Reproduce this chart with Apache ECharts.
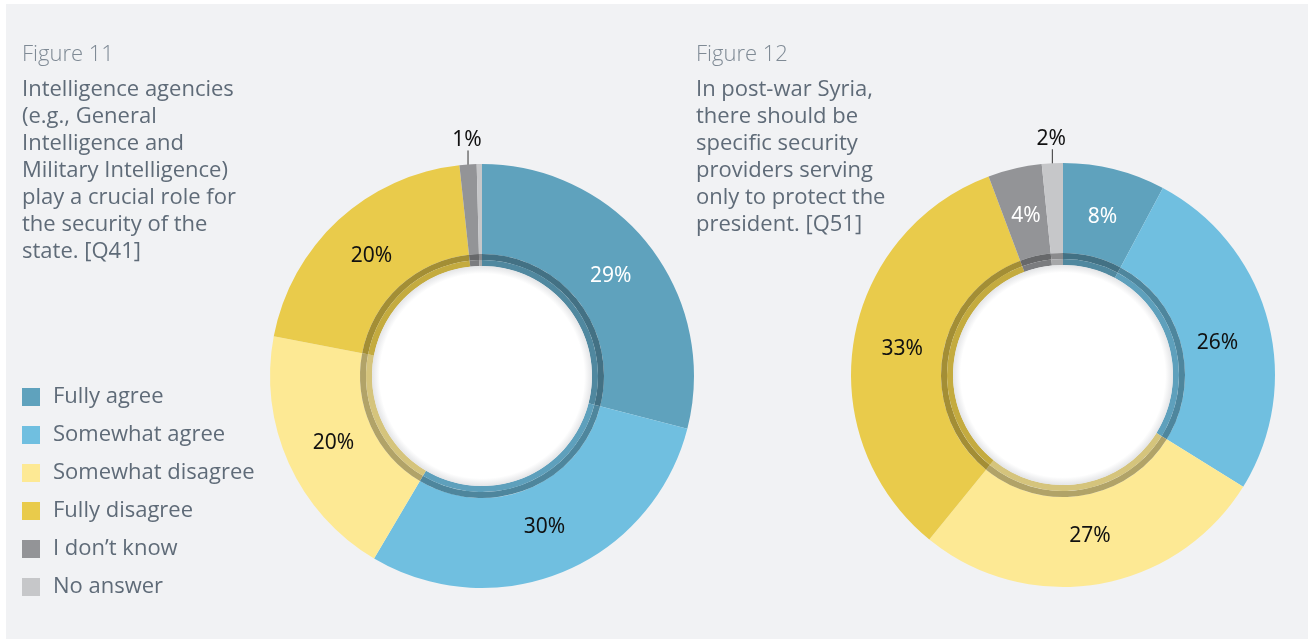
<!DOCTYPE html>
<html>
<head>
<meta charset="utf-8">
<script src="https://cdn.jsdelivr.net/npm/echarts@6/dist/echarts.min.js"></script>
<style>
  html, body { margin: 0; padding: 0; background: #ffffff; }
  #bg { position: absolute; left: 6px; top: 4px; right: 0; bottom: 0; background: #f1f2f4; }
  #chart { position: absolute; left: 0; top: 0; width: 1308px; height: 639px; }
</style>
</head>
<body>
<div id="bg"></div>
<div id="chart"></div>
<script>
const categories = ['Fully agree', 'Somewhat agree', 'Somewhat disagree', 'Fully disagree', 'I don\u2019t know', 'No answer'];
const fig11Values = [29, 29.5, 19.5, 20.3, 1.3, 0.4];
const fig12Values = [7.8, 26, 27, 33.4, 4.1, 1.6];
const fig11Label = 'Figure 11';
const fig12Label = 'Figure 12';
const fig11Question = ['Intelligence agencies', '(e.g., General', 'Intelligence and', 'Military Intelligence)', 'play a crucial role for', 'the security of the', 'state. [Q41]'];
const fig12Question = ['In post-war Syria,', 'there should be', 'specific security', 'providers serving', 'only to protect the', 'president. [Q51]'];

const colors = ['#5fa2bd', '#70bfe0', '#fde994', '#e9cb4b', '#939497', '#c6c7c9'];
const labelColors = ['#ffffff', '#111111', '#111111', '#111111', '#ffffff', '#111111'];
const textFont = 'Open Sans';

function shade(hex, f) {
  const n = parseInt(hex.slice(1), 16);
  const r = Math.round(((n >> 16) & 255) * (1 - f));
  const g = Math.round(((n >> 8) & 255) * (1 - f));
  const b = Math.round((n & 255) * (1 - f));
  return 'rgb(' + r + ',' + g + ',' + b + ')';
}

function mainData(values, outside, hidden) {
  return values.map((v, i) => {
    const item = { name: categories[i], value: v, itemStyle: { color: colors[i] } };
    if (hidden.indexOf(i) >= 0) {
      item.label = { show: false };
    } else if (outside.indexOf(i) >= 0) {
      item.label = { show: true, position: 'outside', color: '#111111' };
      item.labelLine = { show: true, length: 10, length2: 0, lineStyle: { color: '#333333', width: 1 } };
    } else {
      item.label = { show: true, position: 'inside', color: labelColors[i] };
    }
    return item;
  });
}

function ringData(values, f) {
  return values.map((v, i) => ({ name: categories[i], value: v, itemStyle: { color: shade(colors[i], f) } }));
}

function makeSeries(name, values, center, outside, hidden, nudges) {
  return [
    {
      name: name, type: 'pie', center: center, radius: [122, 212], startAngle: 90, clockwise: true,
      avoidLabelOverlap: false, animation: false,
      label: { fontFamily: 'Noto Sans', fontSize: 21, formatter: p => Math.round(p.value) + '%' },
      labelLine: { show: false },
      labelLayout: function (params) {
        const i = params.dataIndex;
        if (outside.indexOf(i) >= 0) {
          const pts = params.labelLinePoints;
          const x = pts ? pts[0][0] : params.rect.x + params.rect.width / 2;
          const y = pts ? pts[0][1] : params.rect.y;
          return {
            x: x - 1, y: y - 14, align: 'center', verticalAlign: 'bottom',
            labelLinePoints: [[x, y + 9], [x, y - 14], [x, y - 14]]
          };
        }
        const lr = params.labelRect;
        const cx = lr.x + lr.width / 2, cy = lr.y + lr.height / 2;
        const vx = cx - center[0], vy = cy - center[1];
        const d = Math.sqrt(vx * vx + vy * vy) || 1;
        const k = (163 - d) / d;
        const n = nudges[i] || [0, 0];
        return { dx: vx * k + n[0], dy: vy * k + n[1] };
      },
      data: mainData(values, outside, hidden)
    },
    {
      name: name, type: 'pie', center: center, radius: [116, 122], startAngle: 90, silent: true, animation: false,
      label: { show: false }, labelLine: { show: false },
      data: ringData(values, 0.3)
    },
    {
      name: name, type: 'pie', center: center, radius: [110, 116], startAngle: 90, silent: true, animation: false,
      label: { show: false }, labelLine: { show: false },
      data: ringData(values, 0.16)
    },
    {
      name: name + ' hole', type: 'pie', center: center, radius: [0, 110], silent: true, animation: false,
      label: { show: false }, labelLine: { show: false },
      data: [{ name: '', value: 1, itemStyle: { color: { type: 'radial', x: 0.5, y: 0.5, r: 0.5, colorStops: [
        { offset: 0, color: '#ffffff' }, { offset: 0.93, color: '#ffffff' }, { offset: 1, color: '#e4e5e7' }
      ] } } }]
    }
  ];
}

const chart = echarts.init(document.getElementById('chart'), null, { renderer: 'canvas' });
const titleBase = {
  top: 42, itemGap: 8, padding: 0,
  textStyle: { fontFamily: textFont, fontSize: 22, fontWeight: 300, color: '#7f8a95', lineHeight: 26 },
  subtextStyle: { fontFamily: textFont, fontSize: 22, color: '#5f6b78', lineHeight: 27 }
};
chart.setOption({
  backgroundColor: 'transparent',
  title: [
    Object.assign({}, titleBase, { left: 22, text: fig11Label, subtext: fig11Question.join('\n') }),
    Object.assign({}, titleBase, { left: 696, text: fig12Label, subtext: fig12Question.join('\n') })
  ],
  legend: {
    orient: 'vertical', left: 22, top: 386, padding: 0, icon: 'rect', itemWidth: 18, itemHeight: 18, itemGap: 16,
    selectedMode: false, data: categories,
    textStyle: { fontFamily: textFont, fontSize: 22, color: '#5f6b78', lineHeight: 20, padding: [0, 0, 0, 8] }
  },
  series: [].concat(
    makeSeries(fig11Label, fig11Values, [482, 376], [4], [5], {}),
    makeSeries(fig12Label, fig12Values, [1063, 375], [5], [], { 1: [-3, 10] })
  )
});
</script>
</body>
</html>
